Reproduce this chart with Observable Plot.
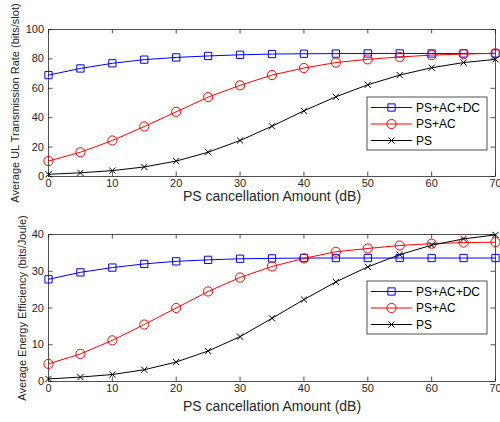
<!DOCTYPE html>
<html><head><meta charset="utf-8">
<script src="https://cdn.jsdelivr.net/npm/d3@7"></script>
<script src="https://cdn.jsdelivr.net/npm/@observablehq/plot@0.6"></script>
<style>
body{margin:0;background:#fff;font-family:"Liberation Sans",Arial,sans-serif;}
#wrap{width:500px;height:422px;}
#wrap svg{display:block;}
</style></head><body><div id="wrap"></div>
<script>
const xValues = [0,5,10,15,20,25,30,35,40,45,50,55,60,65,70];
const seriesNames = ["PS+AC+DC","PS+AC","PS"];
const seriesColors = ["#0000ff","#ff0000","#000000"];
const seriesSymbols = ["square","circle","times"];

const rateDC = [69,73.5,77,79.5,81,82,82.8,83.3,83.5,83.6,83.7,83.7,83.7,83.7,83.7];
const rateAC = [10.5,16.5,24.5,34,44,54,62,69,73.8,77.5,79.7,81.3,82.6,83.3,83.8];
const ratePS = [1.5,2.5,4,6.5,10.5,16.5,24.5,34.2,44.7,54.2,62.4,69,74,77.5,79.7];

const eeDC = [27.8,29.7,31,32,32.7,33.1,33.4,33.5,33.6,33.6,33.6,33.6,33.6,33.6,33.6];
const eeAC = [4.8,7.5,11.2,15.5,20,24.5,28.3,31.3,33.5,35.3,36.2,37,37.5,37.8,37.9];
const eePS = [0.7,1.2,1.9,3.2,5.3,8.3,12.2,17.2,22.3,27.1,31.2,34.5,37.1,38.8,39.9];

const xTicks = [0,10,20,30,40,50,60,70];
const rateTicks = [0,20,40,60,80,100];
const eeTicks = [0,10,20,30,40];
const xTitle = "PS cancellation Amount (dB)";
const rateTitle = "Average UL Transmission Rate (bits/slot)";
const eeTitle = "Average Energy Efficiency (bits/Joule)";

const FONT = "Liberation Sans, Arial, Helvetica, sans-serif";
const AX = "#262626";
const symR = [4.1, 4.6, 2.9];

function panel({seriesVals, yDomain, yTicks, yLabel, height, marginTop, marginBottom, xTitleDy, yTitleDx, legendTop}) {
  const marginLeft = 48, marginRight = 5, width = 500;
  const fw = width - marginLeft - marginRight;
  const fh = height - marginTop - marginBottom;
  const tl = 4.5;
  const marks = [
    Plot.frame({stroke: AX, strokeWidth: 0.8}),
    Plot.tickX(xTicks, {x: d => d, insetTop: fh - tl, stroke: AX, strokeWidth: 0.8}),
    Plot.tickX(xTicks, {x: d => d, insetBottom: fh - tl, stroke: AX, strokeWidth: 0.8}),
    Plot.tickY(yTicks, {y: d => d, insetRight: fw - tl, stroke: AX, strokeWidth: 0.8}),
    Plot.tickY(yTicks, {y: d => d, insetLeft: fw - tl, stroke: AX, strokeWidth: 0.8})
  ];
  seriesVals.forEach((vals, i) => {
    const d = xValues.map((x, j) => ({x, y: vals[j]}));
    marks.push(Plot.line(d, {x: "x", y: "y", stroke: seriesColors[i], strokeWidth: 1}));
    marks.push(Plot.dot(d, {x: "x", y: "y", stroke: seriesColors[i], fill: "none", symbol: seriesSymbols[i],
      r: symR[i], strokeWidth: 1}));
  });
  marks.push(
    Plot.axisX(xTicks, {tickSize: 0, tickPadding: 2.5, fontSize: 11, label: null, color: AX}),
    Plot.axisY(yTicks, {tickSize: 0, tickPadding: 4.5, fontSize: 11, label: null, color: AX}),
    Plot.text([xTitle], {text: d => d, frameAnchor: "bottom", textAnchor: "middle", lineAnchor: "middle",
      dy: xTitleDy, fontSize: 14, fill: AX}),
    Plot.text([yLabel], {text: d => d, frameAnchor: "left", textAnchor: "middle", lineAnchor: "middle",
      rotate: -90, dx: yTitleDx, fontSize: 11, fill: AX})
  );
  const svg = Plot.plot({
    width, height, marginLeft, marginRight, marginTop, marginBottom,
    style: {fontFamily: FONT, background: "white", overflow: "visible"},
    x: {domain: [0, 70]},
    y: {domain: yDomain},
    marks
  });
  // legend box
  const g = d3.select(svg).append("g").attr("font-family", FONT).attr("text-anchor", "start");
  const lx = 367, lw = 120, lh = 53;
  g.append("rect").attr("x", lx).attr("y", legendTop).attr("width", lw).attr("height", lh)
    .attr("fill", "white").attr("stroke", AX).attr("stroke-width", 0.8);
  const rowY = [10.5, 27, 43.5];
  seriesNames.forEach((name, i) => {
    const y = legendTop + rowY[i];
    g.append("line").attr("x1", lx + 4).attr("x2", lx + 45).attr("y1", y).attr("y2", y)
      .attr("stroke", seriesColors[i]).attr("stroke-width", 1.2);
    const sym = {square: d3.symbolSquare, circle: d3.symbolCircle, times: d3.symbolTimes}[seriesSymbols[i]];
    const r = symR[i];
    g.append("path").attr("d", d3.symbol(sym, r * r * Math.PI)())
      .attr("transform", `translate(${lx + 24.5},${y})`)
      .attr("fill", "none").attr("stroke", seriesColors[i]).attr("stroke-width", 1);
    g.append("text").attr("x", lx + 49).attr("y", y).attr("dy", "0.35em")
      .attr("font-size", 12).attr("fill", "#000").text(name);
  });
  return svg;
}

const wrap = document.getElementById("wrap");
wrap.appendChild(panel({
  seriesVals: [rateDC, rateAC, ratePS], yDomain: [0, 100], yTicks: rateTicks, yLabel: rateTitle,
  height: 210, marginTop: 29, marginBottom: 34, xTitleDy: 20, yTitleDx: -33, legendTop: 97
}));
wrap.appendChild(panel({
  seriesVals: [eeDC, eeAC, eePS], yDomain: [0, 40], yTicks: eeTicks, yLabel: eeTitle,
  height: 212, marginTop: 24, marginBottom: 41, xTitleDy: 25.5, yTitleDx: -26.5, legendTop: 71
}));
</script></body></html>
